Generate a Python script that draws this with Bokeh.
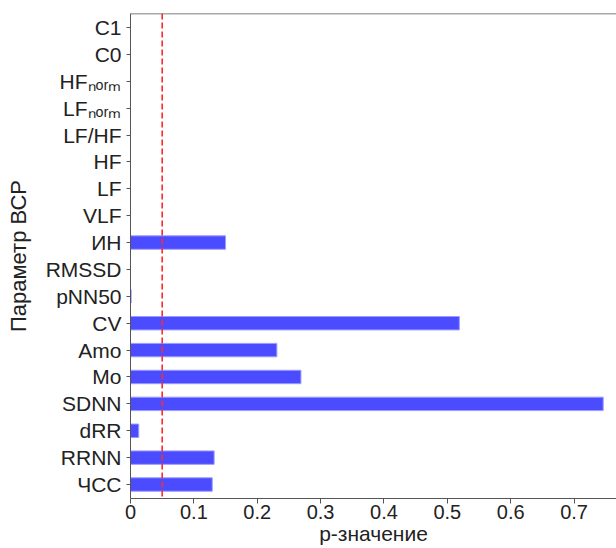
from bokeh.plotting import figure
from bokeh.models import Range1d, FixedTicker, Span, ColumnDataSource
from bokeh.embed import file_html
from bokeh.resources import INLINE

# ---- data (bottom to top) ----
params = ["ЧСС", "RRNN", "dRR", "SDNN", "Mo", "Amo", "CV", "pNN50", "RMSSD",
          "ИН", "VLF", "LF", "HF", "LF/HF", "LFₙₒᵣₘ", "HFₙₒᵣₘ", "C0", "C1"]
p_values = [0.129, 0.132, 0.013, 0.746, 0.269, 0.231, 0.519, 0.001, 0.0,
            0.150, 0.0, 0.0, 0.0, 0.0, 0.0, 0.0, 0.0, 0.0]
x_ticks = [0, 0.1, 0.2, 0.3, 0.4, 0.5, 0.6, 0.7]
threshold = 0.05
x_title = "p-значение"
y_title = "Параметр ВСР"

FONT = "Liberation Sans"
AXIS_COLOR = "#555555"
TEXT_COLOR = "#222222"

W, H = 616, 548

y_pos = list(range(len(params)))
src = ColumnDataSource(dict(y=y_pos, p=p_values, name=params))

x_start, x_end = 0.0, 0.767
y_start, y_end = -0.52, len(params) - 1 + 0.52

p = figure(width=W, height=H, output_backend="svg", toolbar_location=None,
           x_range=Range1d(x_start, x_end), y_range=Range1d(y_start, y_end),
           min_border_left=130, min_border_right=0, min_border_top=13,
           min_border_bottom=50)
p.outline_line_color = None
p.xgrid.visible = False
p.ygrid.visible = False

p.hbar(y="y", left=0, right="p", height=0.5, source=src,
       fill_color="#4b4bff", line_color="#9c9cff", line_width=1)

p.add_layout(Span(location=threshold, dimension="height", line_color="#ff2a2a",
                  line_width=1.6, line_dash="6 3"))
# top frame line
p.add_layout(Span(location=y_end, dimension="width", line_color=AXIS_COLOR,
                  line_width=1.5))

# x axis
xa = p.xaxis[0]
xa.ticker = FixedTicker(ticks=x_ticks)
xa.minor_tick_line_color = None
xa.major_tick_out = 5
xa.major_tick_in = 0
xa.major_label_standoff = 1
xa.axis_line_color = AXIS_COLOR
xa.major_tick_line_color = AXIS_COLOR
xa.major_label_text_font = FONT
xa.major_label_text_font_size = "20px"
xa.major_label_text_color = TEXT_COLOR
xa.major_label_overrides = {0: "0"}
xa.axis_label = x_title
xa.axis_label_text_font = FONT
xa.axis_label_text_font_size = "21px"
xa.axis_label_text_font_style = "normal"
xa.axis_label_text_color = TEXT_COLOR
xa.axis_label_standoff = 0

# y axis
ya = p.yaxis[0]
ya.ticker = FixedTicker(ticks=y_pos)
ya.major_label_overrides = {i: n for i, n in enumerate(params)}
ya.minor_tick_line_color = None
ya.major_tick_out = 4
ya.major_tick_in = 0
ya.major_label_standoff = 5
ya.axis_line_color = AXIS_COLOR
ya.major_tick_line_color = AXIS_COLOR
ya.major_label_text_font = FONT
ya.major_label_text_font_size = "21px"
ya.major_label_text_color = TEXT_COLOR
ya.axis_label = y_title
ya.axis_label_text_font = FONT
ya.axis_label_text_font_size = "22px"
ya.axis_label_text_font_style = "normal"
ya.axis_label_text_color = TEXT_COLOR
ya.axis_label_standoff = 12

open("out.html", "w").write(file_html(p, INLINE))
